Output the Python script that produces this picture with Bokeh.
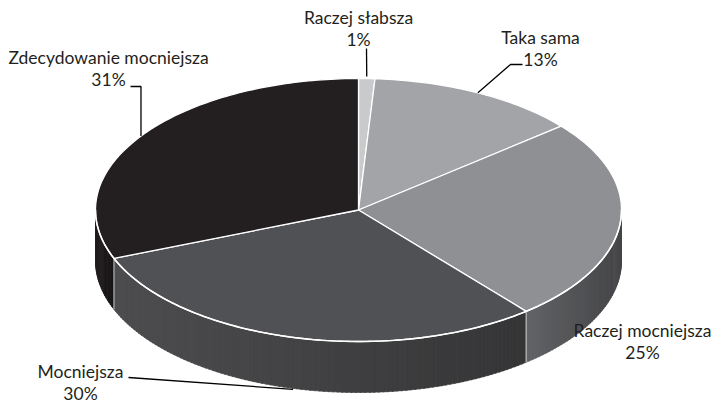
import math
from bokeh.plotting import figure
from bokeh.models import Range1d, ColumnDataSource
from bokeh.core.properties import value
from bokeh.embed import file_html
from bokeh.resources import INLINE

# ---- data ----
categories = ["Raczej słabsza", "Taka sama", "Raczej mocniejsza", "Mocniejsza", "Zdecydowanie mocniejsza"]
shares = [1, 13, 25, 30, 31]
pct_labels = ["1%", "13%", "25%", "30%", "31%"]
top_colors = ["#c9cacc", "#a3a4a7", "#8f9093", "#505154", "#231f20"]
side_colors = ["#8a8b8d", "#6e6f72", "#5e5f62", "#4a4a4c", "#211d1e"]

# ---- layout (image pixel space) ----
W, H = 715, 403
CX, CY, RX, RY, DEPTH = 358.0, 209.5, 263.0, 131.5, 51.0

p = figure(width=W, height=H, output_backend="svg", toolbar_location=None,
           x_range=Range1d(0, W), y_range=Range1d(H, 0),
           min_border=0, border_fill_color="white", background_fill_color="white")
p.axis.visible = False
p.grid.visible = False
p.outline_line_color = None


def pt(theta_deg, dy=0.0):
    t = math.radians(theta_deg)
    return CX + RX * math.sin(t), CY - RY * math.cos(t) + dy


total = float(sum(shares))
bounds = [0.0]
for s in shares:
    bounds.append(bounds[-1] + 360.0 * s / total)


def shade(hexcol, f):
    r, g, b = (int(hexcol[i:i + 2], 16) for i in (1, 3, 5))
    return "#%02x%02x%02x" % tuple(max(0, min(255, int(c * f))) for c in (r, g, b))


# ---- sides (front half: 90..270 deg clockwise from top) ----
sx, sy, sc = [], [], []
for i in range(len(shares)):
    a0, a1 = max(bounds[i], 90.0), min(bounds[i + 1], 270.0)
    if a1 <= a0:
        continue
    n = max(2, int((a1 - a0) / 1.0))
    step = (a1 - a0) / n
    xa0 = pt(a1)[0]
    xa1 = pt(a0)[0]
    for k in range(n):
        t0 = a0 + k * step
        t1 = t0 + step + (0.3 if k < n - 1 else 0)
        p0, p1 = pt(t0), pt(t1)
        q1, q0 = pt(t1, DEPTH), pt(t0, DEPTH)
        xm = (p0[0] + p1[0]) / 2
        frac = (xm - min(xa0, xa1)) / max(1.0, abs(xa1 - xa0))
        f = 1.05 - 0.32 * frac
        sx.append([p0[0], p1[0], q1[0], q0[0]])
        sy.append([p0[1], p1[1], q1[1], q0[1]])
        sc.append(shade(side_colors[i], f))
p.patches(xs="xs", ys="ys", fill_color="c", line_color="c", line_width=0.6,
          source=ColumnDataSource(dict(xs=sx, ys=sy, c=sc)))

# boundary lines on the side
for b in bounds:
    bb = b % 360.0
    if 90.0 < bb < 270.0:
        x0, y0 = pt(bb)
        x1, y1 = pt(bb, DEPTH)
        p.line([x0, x1], [y0, y1], line_color="#d8d8d8", line_width=1)

# ---- top face ----
tx, ty = [], []
for i in range(len(shares)):
    n = max(3, int(bounds[i + 1] - bounds[i]))
    xs, ys = [CX], [CY]
    for k in range(n + 1):
        x, y = pt(bounds[i] + (bounds[i + 1] - bounds[i]) * k / n)
        xs.append(x)
        ys.append(y)
    tx.append(xs)
    ty.append(ys)
p.patches(xs="xs", ys="ys", fill_color="c", line_color="white", line_width=1.3,
          source=ColumnDataSource(dict(xs=tx, ys=ty, c=top_colors)))

# rim highlight on the front
rim = [pt(90 + k) for k in range(181)]
p.line([r[0] for r in rim], [r[1] for r in rim], line_color="white", line_width=1.6)

# ---- labels ----
label_x = [358, 540, 642, 80, 108]
label_y = [17, 37, 330, 371, 57]
FONT = value("Lato")
for i in range(len(shares)):
    p.text(x=[label_x[i]], y=[label_y[i]], text=[categories[i]], text_font=FONT,
           text_font_size="17.5px", text_align="center", text_baseline="middle", text_color="#231f20")
    p.text(x=[label_x[i]], y=[label_y[i] + 22], text=[pct_labels[i]], text_font=FONT,
           text_font_size="17.5px", text_align="center", text_baseline="middle", text_color="#231f20")

# ---- leader lines (end at slice mid angle on the pie) ----
mids = [(bounds[i] + bounds[i + 1]) / 2 for i in range(len(shares))]
# Raczej słabsza
e = pt(mids[0])
p.line([366, e[0]], [48, e[1] - 2], line_color="black", line_width=1.3)
# Taka sama
e = pt(mids[1])
p.line([522, 510, e[0]], [64, 64, e[1]], line_color="black", line_width=1.3)
# Zdecydowanie mocniejsza
e = pt(mids[4])
p.line([130, e[0], e[0]], [86, 86, e[1]], line_color="black", line_width=1.3)
# Mocniejsza
e = pt(mids[3], DEPTH)
p.line([128, e[0]], [377, e[1] + 1], line_color="black", line_width=1.3)

open("out.html", "w").write(file_html(p, INLINE))
